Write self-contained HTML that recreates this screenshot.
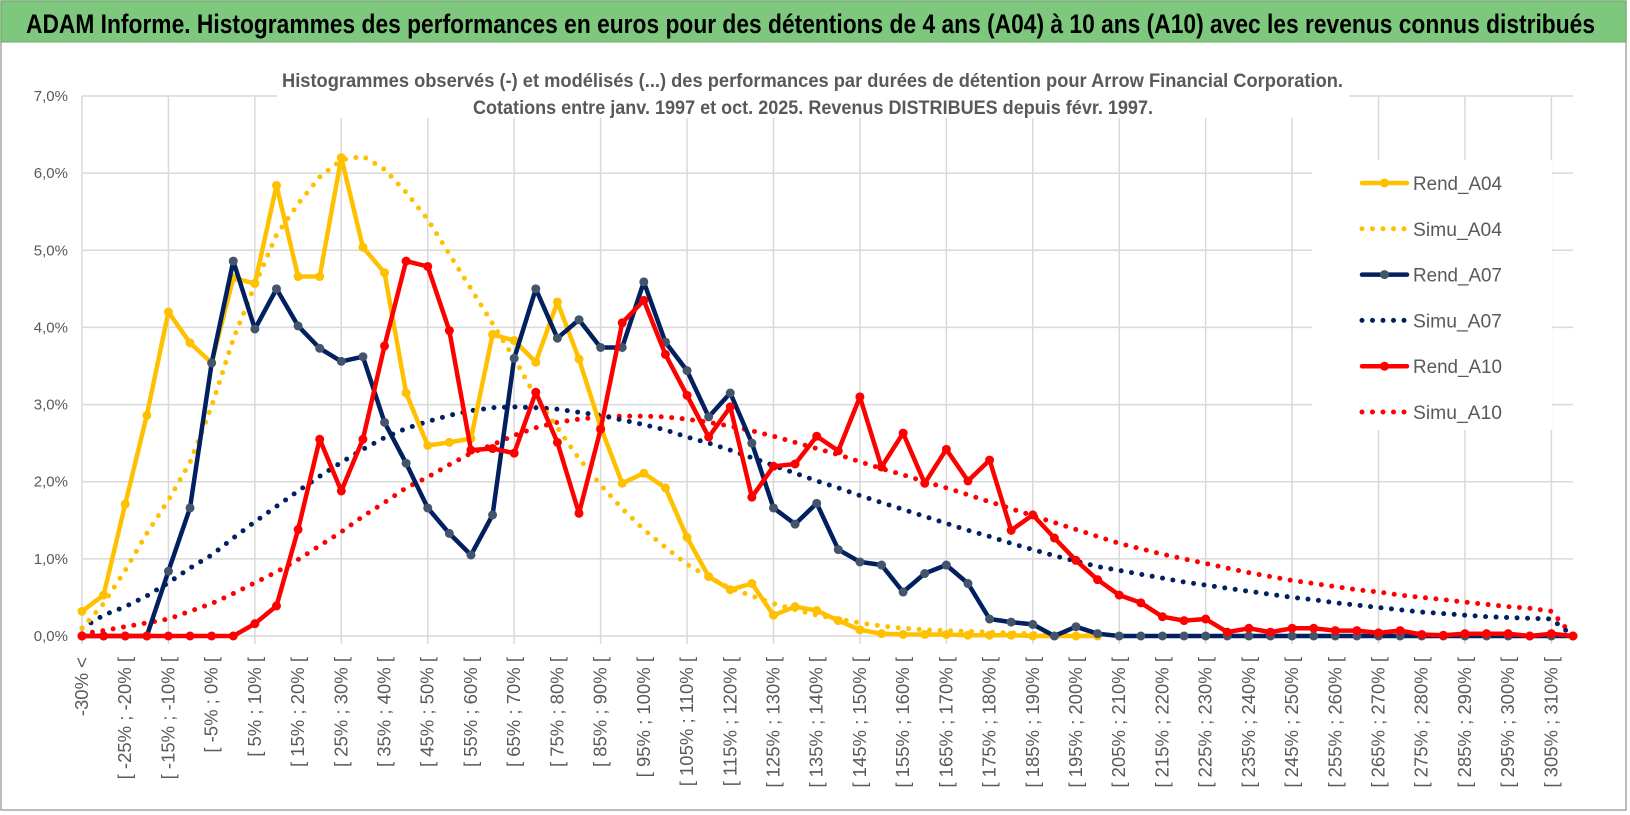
<!DOCTYPE html>
<html><head><meta charset="utf-8">
<style>
html,body{margin:0;padding:0;background:#fff;}
svg{display:block;font-family:"Liberation Sans",sans-serif;}
</style></head>
<body>
<svg id="chart" width="1630" height="815" viewBox="0 0 1630 815" xmlns="http://www.w3.org/2000/svg">
  <rect x="1" y="1" width="1625" height="809" fill="#fff" stroke="#a6a6a6" stroke-width="1.5"/>
  <rect x="1" y="1" width="1625" height="41" fill="#7ec87e" stroke="#6aa86a" stroke-width="1"/>
  <text x="26" y="33" font-size="27" font-weight="bold" fill="#000" textLength="1569" lengthAdjust="spacingAndGlyphs">ADAM Informe. Histogrammes des performances en euros pour des détentions de 4 ans (A04) à 10 ans (A10) avec les revenus connus distribués</text>
  <g id="grid"></g>
  <rect x="277" y="60" width="1072" height="58" fill="#fff"/>
  <text x="282" y="87" font-size="19" font-weight="bold" fill="#595959" textLength="1061" lengthAdjust="spacingAndGlyphs">Histogrammes observés (-) et modélisés (...) des performances par durées de détention pour Arrow Financial Corporation.</text>
  <text x="473" y="114" font-size="19" font-weight="bold" fill="#595959" textLength="680" lengthAdjust="spacingAndGlyphs">Cotations entre janv. 1997 et oct. 2025.  Revenus DISTRIBUES depuis févr. 1997.</text>
  <g id="yaxis"></g>
  <g id="xaxis"></g>
  <g id="series"></g>
  <rect x="1312" y="160" width="240" height="270" fill="#fff"/>
  <g id="legend"></g>
</svg>
<script>
const NS = "http://www.w3.org/2000/svg";
const yTicks = [0,1,2,3,4,5,6,7];
const yTickLabels = ["0,0%","1,0%","2,0%","3,0%","4,0%","5,0%","6,0%","7,0%"];
const categories = (function(){ const c=["-30% <"]; for(let v=-30; v<=305; v+=5){ c.push("[ "+v+"% ; "+(v+5)+"% ["); } c.push("310% >"); return c; })();

const rendA04 = [0.32,0.53,1.71,2.86,4.20,3.80,3.54,4.64,4.57,5.84,4.66,4.66,6.20,5.04,4.71,3.15,2.47,2.51,2.56,3.91,3.83,3.55,4.33,3.59,2.71,1.98,2.11,1.92,1.28,0.77,0.60,0.68,0.27,0.38,0.33,0.20,0.08,0.03,0.02,0.02,0.02,0.01,0.01,0.01,0,0,0,0,null,null,null,null,null,null,null,null,null,null,null,null,null,null,null,null,null,null,null,null,null,null];
const simuA04 = [0.10,0.42,0.85,1.33,1.76,2.25,2.98,3.85,4.55,5.20,5.60,5.95,6.17,6.22,6.05,5.75,5.40,4.95,4.50,4.05,3.60,3.10,2.70,2.30,1.96,1.65,1.38,1.15,0.93,0.76,0.62,0.52,0.42,0.34,0.27,0.22,0.17,0.13,0.10,0.08,0.07,0.06,0.05,0.04,0.03,0.02,0.01,0,null,null,null,null,null,null,null,null,null,null,null,null,null,null,null,null,null,null,null,null,null,null];
const rendA07 = [0,0,0,0,0.84,1.66,3.54,4.86,3.98,4.50,4.02,3.73,3.56,3.62,2.77,2.24,1.66,1.33,1.05,1.57,3.60,4.50,3.86,4.10,3.74,3.74,4.59,3.81,3.44,2.84,3.15,2.50,1.66,1.45,1.72,1.12,0.96,0.92,0.57,0.81,0.92,0.68,0.22,0.18,0.15,0,0.12,0.03,0,0,0,0,0,0,0,0,0,0,0,0,0,0,0,0,0,0,0,0,0,0];
const simuA07 = [0.10,0.27,0.38,0.52,0.69,0.88,1.05,1.27,1.48,1.68,1.88,2.07,2.25,2.42,2.57,2.69,2.78,2.86,2.92,2.96,2.97,2.96,2.94,2.90,2.86,2.80,2.74,2.67,2.58,2.50,2.41,2.31,2.21,2.11,2.01,1.92,1.82,1.73,1.64,1.55,1.46,1.37,1.29,1.20,1.12,1.04,0.97,0.90,0.85,0.80,0.75,0.70,0.66,0.62,0.58,0.54,0.50,0.47,0.43,0.40,0.37,0.34,0.31,0.29,0.27,0.25,0.24,0.23,0.22,0];
const rendA10 = [0,0,0,0,0,0,0,0,0.16,0.39,1.38,2.55,1.88,2.55,3.76,4.86,4.79,3.96,2.41,2.43,2.37,3.16,2.51,1.59,2.68,4.06,4.35,3.65,3.12,2.58,2.97,1.80,2.20,2.23,2.59,2.40,3.10,2.19,2.63,1.98,2.42,2.01,2.28,1.37,1.57,1.27,0.98,0.73,0.53,0.43,0.25,0.20,0.22,0.05,0.10,0.05,0.10,0.10,0.07,0.07,0.04,0.07,0.02,0.01,0.03,0.03,0.03,0,0.03,0];
const simuA10 = [0.03,0.07,0.12,0.17,0.22,0.32,0.42,0.55,0.69,0.83,0.99,1.17,1.35,1.55,1.73,1.92,2.06,2.22,2.37,2.48,2.60,2.70,2.77,2.81,2.84,2.85,2.85,2.84,2.81,2.77,2.72,2.66,2.59,2.51,2.43,2.35,2.26,2.17,2.09,2.00,1.92,1.83,1.74,1.65,1.56,1.47,1.38,1.29,1.20,1.13,1.06,1.00,0.94,0.88,0.82,0.77,0.72,0.68,0.64,0.60,0.57,0.53,0.50,0.47,0.44,0.41,0.38,0.36,0.32,0];
const seriesNames = ["Rend_A04","Simu_A04","Rend_A07","Simu_A07","Rend_A10","Simu_A10"];

const X0 = 82, XN = 1573, Y0 = 636, Y7 = 96;
const n = categories.length;
function xPos(i){ return X0 + i*(XN-X0)/(n-1); }
function yPos(v){ return Y0 - v*(Y0-Y7)/7; }

const grid = document.getElementById("grid");
yTicks.forEach(function(t){
  const l = document.createElementNS(NS,"line");
  
  
  l.setAttribute("x1",X0); l.setAttribute("x2",XN);
  l.setAttribute("y1",yPos(t)); l.setAttribute("y2",yPos(t));
  l.setAttribute("stroke","#d9d9d9"); l.setAttribute("stroke-width","1.5");
  grid.appendChild(l);
});
for(let i=0;i<n;i+=4){
  const l = document.createElementNS(NS,"line");
  
  
  l.setAttribute("x1",xPos(i)); l.setAttribute("x2",xPos(i));
  l.setAttribute("y1",Y7); l.setAttribute("y2",Y0+8);
  l.setAttribute("stroke","#d9d9d9"); l.setAttribute("stroke-width","1.5");
  grid.appendChild(l);
}
const yaxis = document.getElementById("yaxis");
yTicks.forEach(function(t,k){
  const tx = document.createElementNS(NS,"text");
  
  
  tx.setAttribute("x",68); tx.setAttribute("y",yPos(t)+5);
  tx.setAttribute("text-anchor","end"); tx.setAttribute("font-size","15");
  tx.setAttribute("fill","#595959");
  tx.textContent = yTickLabels[k];
  yaxis.appendChild(tx);
});
const xaxis = document.getElementById("xaxis");
for(let i=0;i<n;i+=2){
  const tx = document.createElementNS(NS,"text");
  
  
  const x = xPos(i)+6, y = 657;
  tx.setAttribute("x",x); tx.setAttribute("y",y);
  tx.setAttribute("transform","rotate(-90 "+x+" "+y+")");
  tx.setAttribute("text-anchor","end"); tx.setAttribute("font-size","18.5");
  tx.setAttribute("fill","#595959");
  tx.textContent = categories[i];
  xaxis.appendChild(tx);
}

const seriesG = document.getElementById("series");
function pathFor(vals){
  let d="", pen=false;
  vals.forEach(function(v,i){
    if(v===null){ pen=false; return; }
    d += (pen?"L":"M")+xPos(i).toFixed(1)+" "+yPos(v).toFixed(1)+" ";
    pen=true;
  });
  return d;
}
function drawDotted(vals,color,name){
  const p = document.createElementNS(NS,"path");
  
  
  p.setAttribute("d",pathFor(vals)); p.setAttribute("fill","none");
  p.setAttribute("stroke",color); p.setAttribute("stroke-width","5");
  p.setAttribute("stroke-linecap","round"); p.setAttribute("stroke-dasharray","0 10.5");
  seriesG.appendChild(p);
}
function drawSolid(vals,color,marker,name){
  const g = document.createElementNS(NS,"g");
  
  
  const p = document.createElementNS(NS,"path");
  
  
  p.setAttribute("d",pathFor(vals)); p.setAttribute("fill","none");
  p.setAttribute("stroke",color); p.setAttribute("stroke-width","4.5");
  p.setAttribute("stroke-linejoin","round");
  g.appendChild(p);
  vals.forEach(function(v,i){
    if(v===null) return;
    const c = document.createElementNS(NS,"circle");
    
    
    c.setAttribute("cx",xPos(i)); c.setAttribute("cy",yPos(v)); c.setAttribute("r","4.5");
    c.setAttribute("fill",marker);
    g.appendChild(c);
  });
  seriesG.appendChild(g);
}
drawDotted(simuA10,"#ff0000","simu-a10-line");
drawDotted(simuA07,"#002060","simu-a07-line");
drawDotted(simuA04,"#ffc000","simu-a04-line");
drawSolid(rendA04,"#ffc000","#ffc000","rend-a04");
drawSolid(rendA07,"#002060","#44546a","rend-a07");
drawSolid(rendA10,"#ff0000","#ff0000","rend-a10");

const legend = document.getElementById("legend");
const legendColors = ["#ffc000","#ffc000","#002060","#002060","#ff0000","#ff0000"];
const legendMarkers = ["#ffc000",null,"#44546a",null,"#ff0000",null];
seriesNames.forEach(function(nm,k){
  const y = 183 + k*45.8;
  const g = document.createElementNS(NS,"g");
  
  
  const l = document.createElementNS(NS,"line");
  
  
  l.setAttribute("x1",1362); l.setAttribute("x2",1407); l.setAttribute("y1",y); l.setAttribute("y2",y);
  l.setAttribute("stroke",legendColors[k]); l.setAttribute("stroke-linecap","round");
  if(legendMarkers[k]){ l.setAttribute("stroke-width","4.5"); }
  else { l.setAttribute("stroke-width","5"); l.setAttribute("stroke-dasharray","0 10.5"); }
  g.appendChild(l);
  if(legendMarkers[k]){
    const c = document.createElementNS(NS,"circle");
    
    
    c.setAttribute("cx",1384.5); c.setAttribute("cy",y); c.setAttribute("r","4.5");
    c.setAttribute("fill",legendMarkers[k]);
    g.appendChild(c);
  }
  const t = document.createElementNS(NS,"text");
  
  
  t.setAttribute("x",1413); t.setAttribute("y",y+7);
  t.setAttribute("font-size","19"); t.setAttribute("fill","#595959");
  t.setAttribute("textLength","89"); t.setAttribute("lengthAdjust","spacingAndGlyphs");
  t.textContent = nm;
  g.appendChild(t);
  legend.appendChild(g);
});
</script>
</body></html>
